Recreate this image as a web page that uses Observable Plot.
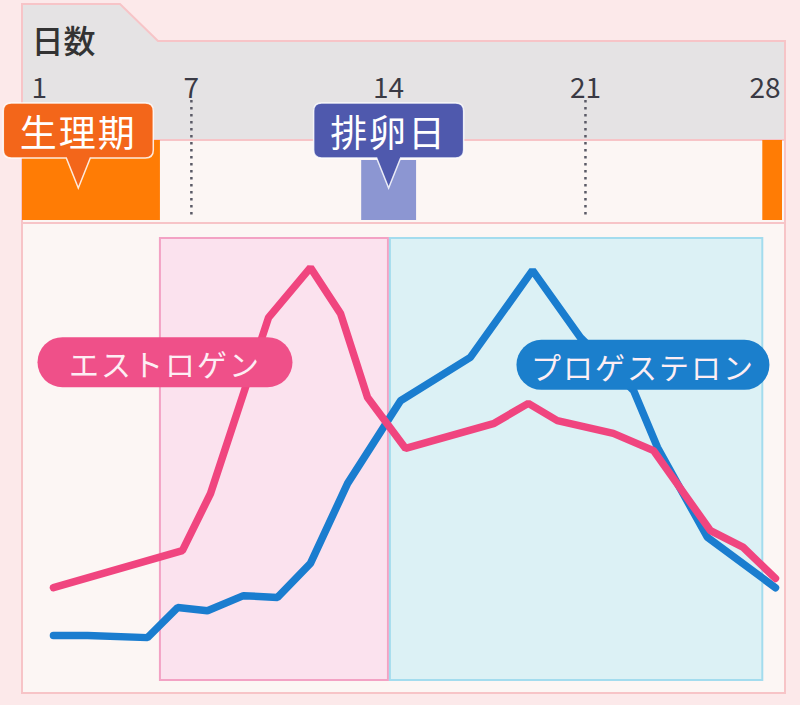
<!DOCTYPE html>
<html>
<head>
<meta charset="utf-8">
<script src="https://cdn.jsdelivr.net/npm/d3@7"></script>
<script src="https://cdn.jsdelivr.net/npm/@observablehq/plot@0.6"></script>
<style>
  html, body { margin: 0; padding: 0; background: #fce9ea; }
  #chart { width: 800px; height: 705px; }
</style>
</head>
<body>
<div id="chart"></div>
<script>
// ---------------- data ----------------
const axisTitle = "日数";
const dayTicks = [1, 7, 14, 21, 28];
const guideDays = [7, 21];

const estrogenName = "エストロゲン";
const estrogenDays   = [2.1, 6.68, 7.68, 9.74, 11.23, 12.3, 13.26, 14.61, 17.73, 18.97, 20.0, 21.99, 23.42, 25.44, 26.61, 27.75];
const estrogenLevels = [21.0, 29.4, 42.3, 82.1, 93.4, 83.0, 64.0, 52.5, 58.1, 62.7, 58.8, 55.9, 52.0, 33.9, 30.1, 23.1];

const progesteroneName = "プロゲステロン";
const progesteroneDays   = [2.1, 3.31, 5.44, 6.51, 7.57, 8.85, 10.06, 11.23, 12.55, 14.43, 16.91, 19.12, 20.82, 22.71, 23.56, 25.33, 27.75];
const progesteroneLevels = [10.2, 10.2, 9.7, 16.5, 15.8, 19.2, 18.8, 26.5, 44.6, 63.3, 73.1, 92.8, 77.6, 65.6, 52.7, 32.4, 21.0];

const menstruationName = "生理期";
const menstruationStarts = [1, 27.3];
const menstruationEnds   = [5.9, 28];
const ovulationName = "排卵日";
const ovulationStart = 13.05;
const ovulationEnd = 15.0;
const estrogenPhase = [5.9, 14.0];
const progesteronePhase = [14.07, 27.3];

// ---------------- tables ----------------
const estrogen = estrogenDays.map((d, i) => ({day: d, level: estrogenLevels[i]}));
const progesterone = progesteroneDays.map((d, i) => ({day: d, level: progesteroneLevels[i]}));
const menses = menstruationStarts.map((s, i) => ({start: s, end: menstruationEnds[i]}));
const phases = [
  {name: "estrogen", start: estrogenPhase[0], end: estrogenPhase[1]},
  {name: "progesterone", start: progesteronePhase[0], end: progesteronePhase[1]}
];

// ---------------- layout ----------------
const FONT = "'Noto Sans CJK JP', 'Noto Sans', sans-serif";
const Y_RANGE = [680, 238];
const lvl = p => 100 * (Y_RANGE[0] - p) / (Y_RANGE[0] - Y_RANGE[1]);
const STRIP_TOP = 140, STRIP_BOTTOM = 220;

function backdrop() {
  return () => {
    const g = d3.create("svg:g");
    g.append("path")
      .attr("d", "M22,4H120L158,41H785V140H22Z")
      .attr("fill", "#e5e3e4").attr("stroke", "#f7c4c7").attr("stroke-width", 2);
    g.append("rect")
      .attr("x", 22).attr("y", 140).attr("width", 763).attr("height", 553)
      .attr("fill", "#fcf6f4").attr("stroke", "#f7c4c7").attr("stroke-width", 2);
    g.append("line")
      .attr("x1", 22).attr("x2", 785).attr("y1", 223).attr("y2", 223)
      .attr("stroke", "#f7c4c7").attr("stroke-width", 2);
    return g.node();
  };
}

function callout({day, text, fill}) {
  return (index, scales) => {
    const cx = scales.x(day);
    const x0 = cx - 75, x1 = cx + 75, y0 = 103, y1 = 158, r = 8, tip = 188, hw = 12;
    const d = `M${x0 + r},${y0}H${x1 - r}Q${x1},${y0} ${x1},${y0 + r}V${y1 - r}Q${x1},${y1} ${x1 - r},${y1}` +
              `H${cx + hw}L${cx},${tip}L${cx - hw},${y1}H${x0 + r}Q${x0},${y1} ${x0},${y1 - r}V${y0 + r}Q${x0},${y0} ${x0 + r},${y0}Z`;
    const g = d3.create("svg:g");
    g.append("path").attr("d", d).attr("fill", fill)
      .attr("stroke", "#fff").attr("stroke-opacity", 0.85).attr("stroke-width", 1.5);
    g.append("text").attr("x", cx).attr("y", 131)
      .attr("text-anchor", "middle").attr("dominant-baseline", "central")
      .attr("fill", "#fff").attr("font-family", FONT).attr("font-size", 37)
      .attr("letter-spacing", 2).text(text);
    return g.node();
  };
}

function pill({day, level, text, fill, w}) {
  return (index, scales) => {
    const cx = scales.x(day), cy = scales.y(level);
    const g = d3.create("svg:g");
    g.append("rect").attr("x", cx - w / 2).attr("y", cy - 25).attr("width", w).attr("height", 50)
      .attr("rx", 25).attr("fill", fill);
    g.append("text").attr("x", cx).attr("y", cy + 1)
      .attr("text-anchor", "middle").attr("dominant-baseline", "central")
      .attr("fill", "#fdeef4").attr("font-family", FONT).attr("font-size", 30)
      .attr("letter-spacing", 2).text(text);
    return g.node();
  };
}

const chart = Plot.plot({
  width: 800,
  height: 705,
  margin: 0,
  x: {domain: [1, 28], range: [22, 782], axis: null},
  y: {domain: [0, 100], range: Y_RANGE, axis: null},
  style: {background: "#fce9ea", fontFamily: FONT},
  marks: [
    backdrop(),
    // phase regions
    Plot.rect(phases, {
      x1: "start", x2: "end", y1: 0, y2: 100,
      fill: d => d.name === "estrogen" ? "#fbe2ee" : "#dcf1f5",
      stroke: d => d.name === "estrogen" ? "#f3a2c4" : "#a3dcee",
      strokeWidth: 2
    }),
    // menstruation & ovulation bars
    Plot.rect(menses, {x1: "start", x2: "end", y1: lvl(STRIP_BOTTOM), y2: lvl(STRIP_TOP), fill: "#ff7c05"}),
    Plot.rect([{start: ovulationStart, end: ovulationEnd}], {x1: "start", x2: "end", y1: lvl(STRIP_BOTTOM), y2: lvl(160), fill: "#8c96d2"}),
    // dotted guides
    Plot.ruleX(guideDays, {y1: lvl(100), y2: lvl(217), stroke: "#5a5a66", strokeWidth: 2.5, strokeDasharray: "2.5,4.5"}),
    // axis title & tick labels
    Plot.text([axisTitle], {frameAnchor: "top-left", dx: 31, dy: 30, textAnchor: "start", fontSize: 32, fill: "#333", fontWeight: 500, letterSpacing: 6, text: d => d}),
    Plot.text(dayTicks.slice(0, 1), {x: d => d, frameAnchor: "top", dy: 78, dx: 9, textAnchor: "start", fontSize: 28, fill: "#3a3a44", text: d => String(d)}),
    Plot.text(dayTicks.slice(1, -1), {x: d => d, frameAnchor: "top", dy: 78, fontSize: 28, fill: "#3a3a44", text: d => String(d)}),
    Plot.text(dayTicks.slice(-1), {x: d => d, frameAnchor: "top", dy: 78, dx: -2, textAnchor: "end", fontSize: 28, fill: "#3a3a44", text: d => String(d)}),
    // callouts
    callout({day: 3.0, text: menstruationName, fill: "#f3661a"}),
    callout({day: (ovulationStart + ovulationEnd) / 2, text: ovulationName, fill: "#4f59ad"}),
    // hormone lines
    Plot.line(progesterone, {x: "day", y: "level", stroke: "#1a7dcf", strokeWidth: 7.5, strokeLinejoin: "miter", strokeLinecap: "round"}),
    Plot.line(estrogen, {x: "day", y: "level", stroke: "#f0457f", strokeWidth: 7.5, strokeLinejoin: "miter", strokeLinecap: "round"}),
    // series labels
    pill({day: 6.08, level: 71.9, text: estrogenName, fill: "#ef5089", w: 255}),
    pill({day: 23.06, level: 71.3, text: progesteroneName, fill: "#1b7fcc", w: 253})
  ]
});
document.getElementById("chart").appendChild(chart);
</script>
</body>
</html>
